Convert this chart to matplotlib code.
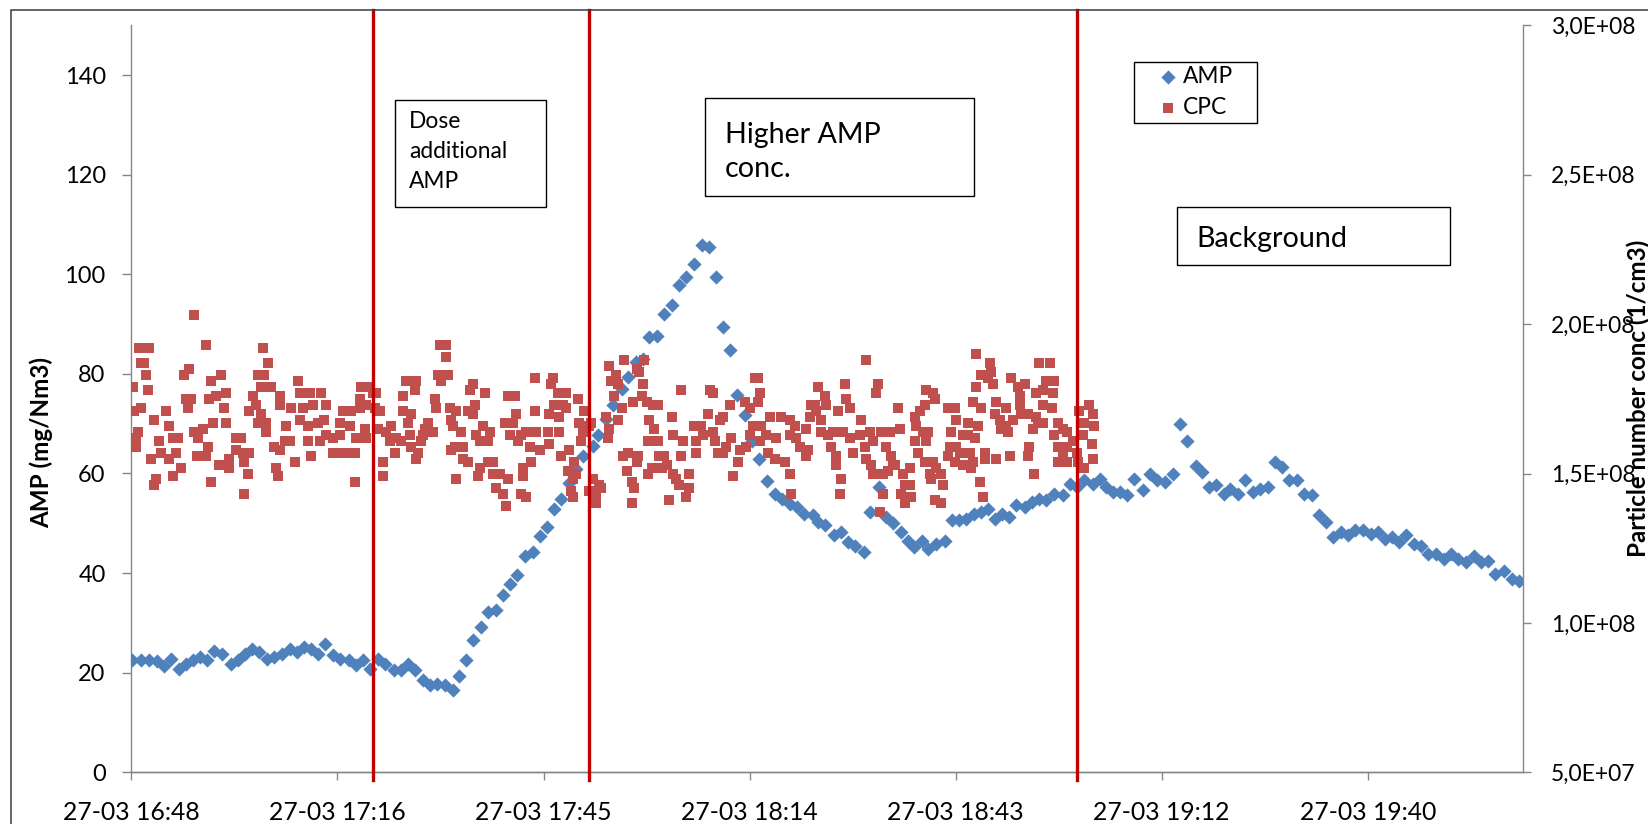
import datetime as dt
import numpy as np
import matplotlib
matplotlib.use("Agg")
import matplotlib.pyplot as plt
import matplotlib.dates as mdates
from matplotlib.patches import Rectangle
from matplotlib.ticker import FuncFormatter

plt.rcParams['font.family'] = ['Lato', 'DejaVu Sans']

# time axis starts 27-03 16:48, values below are minutes after that
start = dt.datetime(2013, 3, 27, 16, 48)
x_end_min = 194.5
tick_step_min = 28.8

# AMP (mg/Nm3), left axis
amp_min = [0.1, 1.4, 2.5, 3.6, 4.6, 5.6, 6.6, 7.6, 8.6, 9.6,
           10.6, 11.6, 12.6, 13.9, 14.9, 15.9, 16.9, 17.9, 18.9, 19.9,
           21.1, 22.1, 23.1, 24.1, 25.1, 26.1, 27.1, 28.2, 29.2, 30.4,
           31.4, 32.4, 33.4, 34.4, 35.4, 36.7, 37.7, 38.7, 39.7, 40.7,
           41.7, 42.7, 43.9, 44.9, 45.8, 46.8, 47.8, 48.9, 49.8, 50.9,
           51.9, 52.9, 53.9, 55.0, 56.1, 57.1, 58.1, 59.1, 60.0, 61.2,
           62.2, 63.1, 64.5, 65.2, 66.4, 67.3, 68.5, 69.4, 70.5, 71.5,
           72.3, 73.5, 74.5, 75.5, 76.5, 77.5, 78.6, 79.7, 80.7, 81.7,
           82.7, 83.7, 84.6, 85.7, 86.7, 87.7, 88.8, 90.0, 91.0, 92.0,
           93.0, 94.0, 95.2, 96.0, 97.0, 98.2, 99.2, 100.2, 101.2, 102.4,
           103.2, 104.5, 105.4, 106.5, 107.5, 108.5, 109.4, 110.5, 111.4, 112.4,
           113.7, 114.7, 115.7, 116.7, 117.7, 118.7, 119.7, 120.7, 121.7, 122.7,
           123.7, 124.9, 125.9, 126.9, 127.9, 128.9, 130.2, 131.2, 132.2, 133.2,
           134.4, 135.4, 136.2, 137.2, 138.2, 139.1, 140.1, 141.4, 142.4, 143.4,
           144.4, 145.6, 146.5, 147.5, 148.8, 149.6, 150.6, 151.6, 152.7, 153.6,
           154.6, 155.7, 156.7, 157.8, 158.8, 159.8, 160.8, 161.8, 162.9, 163.9,
           165.0, 166.0, 167.0, 168.0, 169.0, 170.0, 171.0, 172.2, 173.2, 174.2,
           175.2, 176.2, 177.2, 178.2, 179.2, 180.2, 181.2, 182.3, 183.4, 184.4,
           185.4, 186.5, 187.7, 188.6, 189.6, 190.6, 191.9, 192.9, 193.9]
amp_val = [22.5, 22.5, 22.6, 22.3, 21.3, 22.8, 20.8, 21.8, 22.6, 23.1,
           22.6, 24.3, 23.8, 21.8, 22.6, 23.8, 24.8, 24.1, 22.8, 23.1,
           23.8, 24.8, 24.1, 25.1, 24.8, 23.8, 25.8, 23.5, 22.8, 22.5,
           21.5, 22.5, 20.8, 22.8, 21.8, 20.5, 20.5, 21.7, 20.5, 18.5,
           17.5, 17.8, 17.5, 16.6, 19.3, 22.5, 26.6, 29.1, 32.1, 32.6,
           35.6, 37.8, 39.7, 43.5, 44.2, 47.5, 49.3, 52.8, 54.8, 58.0,
           61.0, 63.6, 65.6, 67.7, 71.0, 73.7, 77.0, 79.4, 82.4, 83.0,
           87.4, 87.7, 92.1, 93.9, 97.8, 99.4, 102.1, 105.8, 105.5, 99.4,
           89.4, 84.7, 75.7, 71.7, 66.6, 63.0, 58.4, 55.9, 54.9, 53.9,
           53.3, 51.9, 51.6, 50.2, 49.6, 47.6, 48.2, 46.2, 45.5, 44.2,
           52.2, 57.3, 51.2, 50.1, 48.2, 46.5, 45.2, 46.5, 44.9, 45.9,
           46.5, 50.6, 50.6, 50.9, 51.9, 52.2, 52.9, 50.9, 51.9, 51.2,
           53.6, 53.3, 54.3, 54.9, 54.6, 55.9, 55.6, 57.9, 57.3, 58.6,
           57.9, 58.9, 57.3, 56.3, 56.3, 55.6, 58.9, 56.6, 59.9, 58.6,
           58.3, 59.9, 70.0, 66.6, 61.6, 60.3, 57.3, 57.6, 55.9, 56.9,
           55.9, 58.6, 56.3, 56.9, 57.3, 62.3, 61.3, 58.6, 58.6, 55.9,
           55.6, 51.6, 50.2, 47.2, 48.2, 47.6, 48.6, 48.6, 47.9, 48.2,
           46.9, 47.2, 46.2, 47.6, 45.9, 45.5, 43.9, 43.9, 42.9, 43.9,
           42.9, 42.2, 43.5, 42.2, 42.5, 39.9, 40.5, 38.9, 38.5]

# CPC particle number (in 1E+08 per cm3), right axis
cpc_min = [0.2, 1.0, 2.5, 1.4, 1.8, 2.1, 2.3, 0.4, 1.4, 0.9,
           0.7, 0.6, 3.2, 4.9, 3.9, 2.8, 4.2, 5.3, 5.8, 6.5,
           5.3, 3.5, 3.2, 5.8, 7.0, 6.3, 7.4, 8.1, 7.7, 8.4,
           7.9, 8.8, 8.8, 9.3, 10.0, 9.1, 10.4, 10.7, 10.4, 11.1,
           10.9, 11.8, 12.5, 13.2, 13.0, 11.4, 13.2, 12.3, 11.1, 13.7,
           13.7, 14.6, 15.3, 14.6, 15.6, 16.5, 15.8, 16.3, 15.8, 18.4,
           19.1, 17.7, 18.6, 18.1, 19.5, 17.0, 17.4, 16.5, 18.1, 17.7,
           18.8, 18.8, 20.7, 20.7, 20.0, 20.7, 20.2, 20.5, 21.6, 22.1,
           21.4, 22.8, 23.3, 23.5, 24.9, 26.5, 22.3, 24.0, 23.5, 25.4,
           27.2, 24.7, 26.1, 26.9, 27.2, 28.2, 24.7, 26.3, 25.1, 28.2,
           # 17:17 - 17:46
           29.6, 30.7, 29.1, 30.5, 29.1, 29.3, 30.7, 31.2, 31.2, 32.1,
           33.1, 31.9, 31.9, 32.8, 33.8, 34.0, 32.6, 32.8, 31.4, 34.2,
           34.7, 34.5, 35.1, 35.1, 35.6, 36.3, 36.1, 37.0, 36.8, 37.7,
           37.9, 38.4, 39.8, 39.6, 37.9, 39.1, 38.6, 38.9, 39.1, 39.8,
           40.0, 40.5, 41.0, 41.4, 42.1, 40.7, 43.1, 44.0, 44.0, 42.8,
           44.2, 43.3, 42.4, 42.6, 44.5, 45.4, 44.7, 44.9, 46.1, 44.7,
           45.2, 46.3, 46.3, 47.0, 45.4, 47.3, 47.7, 47.0, 48.0, 47.7,
           48.2, 49.1, 48.7, 50.1, 49.8, 49.4, 48.7, 48.4, 49.8, 50.5,
           50.5, 51.5, 52.6, 51.0, 51.9, 52.4, 52.2, 52.6, 53.6, 53.8,
           53.3, 52.9, 54.0, 54.5, 55.2, 55.7, 56.6, 56.4, 57.1, 55.9,
           54.7, 54.7, 54.5, 55.2, 56.4,
           # 17:46 - 18:15
           58.9, 58.7, 59.6, 60.8, 62.4, 59.1, 60.3, 58.4, 59.8, 60.8,
           58.2, 58.4, 59.8, 62.6, 63.3, 63.1, 62.9, 64.3, 60.1, 61.2,
           61.9, 61.0, 62.2, 61.7, 61.5, 61.7, 64.0, 64.5, 65.4, 65.0,
           64.0, 65.0, 65.7, 66.4, 66.6, 66.8, 68.9, 66.8, 67.8, 67.1,
           68.0, 67.5, 68.5, 68.0, 70.1, 70.6, 71.0, 71.7, 71.5, 71.3,
           72.0, 72.4, 73.1, 72.9, 73.6, 72.2, 73.6, 68.7, 69.4, 70.8,
           70.6, 69.2, 69.9, 70.3, 69.9, 72.2, 72.7, 73.8, 74.5, 74.8,
           74.1, 75.7, 76.1, 76.6, 78.0, 78.0, 77.5, 75.2, 75.5, 76.8,
           75.7, 77.1, 76.8, 78.7, 78.9, 78.9, 79.6, 79.9, 80.6, 80.8,
           81.3, 81.3, 81.5, 82.2, 82.7, 83.6, 82.0, 82.7, 83.1, 83.8,
           84.8, 84.1, 85.0, 85.9, 85.7, 86.4, 86.9, 87.1, 86.4,
           # 18:15 - 18:44
           87.6, 87.8, 87.6, 88.0, 87.8, 89.2, 88.7, 89.0, 89.9, 90.1,
           90.8, 91.3, 92.0, 92.0, 92.7, 92.9, 93.4, 94.3, 94.3, 94.6,
           92.0, 92.2, 95.0, 95.5, 95.7, 94.8, 96.4, 96.0, 96.9, 97.1,
           96.4, 97.4, 98.1, 97.8, 98.8, 98.5, 98.5, 99.2, 99.0, 99.7,
           99.9, 100.4, 99.5, 100.4, 100.9, 101.8, 102.0, 102.7, 103.2, 102.5,
           102.7, 103.4, 103.6, 104.3, 104.1, 103.6, 104.8, 105.0, 105.7, 105.5,
           106.0, 106.2, 106.4, 107.1, 107.4, 106.7, 107.8, 108.8, 108.1, 108.8,
           107.6, 108.1, 109.0, 105.0, 104.6, 109.5, 109.7, 109.5, 110.6, 111.1,
           112.0, 112.3, 110.9, 110.2, 111.3, 111.1, 109.9, 110.9, 112.0, 111.6,
           111.8, 112.5, 113.2, 113.4, 112.3, 113.2, 114.1, 115.1, 115.3, 114.6,
           114.4, 115.3, 116.2, 115.8, 114.1, 115.1, 116.2,
           # 18:44 - 19:03
           118.0, 120.0, 120.2, 118.8, 119.7, 118.1, 120.4, 117.6, 118.8, 116.9,
           118.3, 116.9, 117.9, 117.2, 117.6, 117.4, 119.3, 119.3, 120.9, 118.6,
           119.0, 123.0, 123.9, 124.9, 124.2, 120.9, 122.3, 120.7, 121.4, 122.3,
           121.6, 122.5, 123.2, 124.2, 124.4, 125.3, 126.5, 126.0, 126.7, 127.4,
           125.5, 122.8, 125.3, 126.2, 126.9, 128.4, 127.9, 129.0, 127.4, 126.5,
           128.8, 127.4, 128.6, 129.5, 130.2, 130.7, 129.0, 129.5, 130.7, 130.2,
           129.5, 130.7, 131.6, 132.1, 132.3, 132.5, 133.9, 134.4, 133.2, 134.6,
           133.0, 134.2, 134.4, 133.2]
cpc_val = [1.79, 1.92, 1.92, 1.87, 1.87, 1.83, 1.78, 1.71, 1.72, 1.64,
           1.62, 1.59, 1.68, 1.71, 1.61, 1.55, 1.57, 1.66, 1.62, 1.62,
           1.55, 1.48, 1.46, 1.49, 1.52, 1.57, 1.83, 1.85, 1.75, 1.75,
           1.72, 2.03, 1.64, 1.62, 1.65, 1.56, 1.56, 1.59, 1.93, 1.81,
           1.75, 1.76, 1.83, 1.77, 1.72, 1.67, 1.67, 1.53, 1.47, 1.52,
           1.55, 1.62, 1.62, 1.58, 1.57, 1.57, 1.54, 1.50, 1.43, 1.92,
           1.87, 1.83, 1.83, 1.79, 1.79, 1.76, 1.73, 1.71, 1.70, 1.67,
           1.67, 1.64, 1.76, 1.73, 1.59, 1.58, 1.52, 1.49, 1.66, 1.61,
           1.61, 1.54, 1.81, 1.77, 1.77, 1.77, 1.72, 1.72, 1.68, 1.73,
           1.73, 1.66, 1.67, 1.68, 1.63, 1.62, 1.61, 1.61, 1.56, 1.57,
           # 17:17 - 17:46
           1.71, 1.71, 1.67, 1.66, 1.63, 1.57, 1.57, 1.57, 1.47, 1.79,
           1.79, 1.75, 1.72, 1.73, 1.77, 1.72, 1.65, 1.62, 1.62, 1.77,
           1.71, 1.65, 1.54, 1.49, 1.64, 1.66, 1.61, 1.62, 1.57, 1.61,
           1.76, 1.81, 1.81, 1.78, 1.71, 1.70, 1.67, 1.63, 1.59, 1.55,
           1.57, 1.61, 1.65, 1.67, 1.64, 1.63, 1.93, 1.93, 1.89, 1.83,
           1.83, 1.81, 1.75, 1.72, 1.72, 1.71, 1.68, 1.66, 1.64, 1.58,
           1.59, 1.59, 1.55, 1.54, 1.48, 1.78, 1.80, 1.71, 1.73, 1.70,
           1.63, 1.66, 1.61, 1.64, 1.61, 1.77, 1.52, 1.49, 1.54, 1.54,
           1.50, 1.50, 1.48, 1.45, 1.43, 1.39, 1.67, 1.76, 1.76, 1.70,
           1.67, 1.63, 1.61, 1.63, 1.64, 1.59, 1.64, 1.71, 1.58, 1.54,
           1.52, 1.49, 1.43, 1.42, 1.82,
           # 17:46 - 18:15
           1.82, 1.80, 1.77, 1.77, 1.75, 1.73, 1.73, 1.70, 1.69, 1.72,
           1.64, 1.60, 1.64, 1.67, 1.71, 1.64, 1.61, 1.67, 1.56, 1.58,
           1.54, 1.51, 1.50, 1.48, 1.44, 1.42, 1.66, 1.48, 1.46, 1.43,
           1.44, 1.40, 1.45, 1.69, 1.62, 1.65, 1.88, 1.86, 1.83, 1.81,
           1.80, 1.76, 1.72, 1.68, 1.74, 1.85, 1.84, 1.88, 1.80, 1.76,
           1.74, 1.68, 1.65, 1.73, 1.73, 1.61, 1.61, 1.56, 1.57, 1.56,
           1.54, 1.51, 1.47, 1.45, 1.40, 1.50, 1.52, 1.56, 1.56, 1.53,
           1.52, 1.50, 1.48, 1.46, 1.50, 1.45, 1.42, 1.41, 1.69, 1.78,
           1.63, 1.61, 1.56, 1.66, 1.61, 1.57, 1.66, 1.63, 1.70, 1.78,
           1.77, 1.64, 1.61, 1.68, 1.69, 1.73, 1.57, 1.57, 1.59, 1.62,
           1.54, 1.49, 1.58, 1.59, 1.74, 1.72, 1.66, 1.82, 1.63,
           # 18:15 - 18:44
           1.82, 1.77, 1.74, 1.66, 1.61, 1.69, 1.63, 1.57, 1.55, 1.62,
           1.69, 1.54, 1.68, 1.63, 1.66, 1.62, 1.59, 1.56, 1.65, 1.58,
           1.50, 1.43, 1.73, 1.73, 1.71, 1.69, 1.68, 1.79, 1.76, 1.73,
           1.64, 1.63, 1.64, 1.59, 1.71, 1.56, 1.53, 1.48, 1.43, 1.80,
           1.75, 1.72, 1.64, 1.62, 1.57, 1.63, 1.68, 1.88, 1.64, 1.59,
           1.55, 1.53, 1.50, 1.80, 1.77, 1.61, 1.64, 1.50, 1.51, 1.59,
           1.64, 1.56, 1.53, 1.72, 1.65, 1.53, 1.50, 1.52, 1.46, 1.46,
           1.43, 1.40, 1.42, 1.43, 1.37, 1.69, 1.66, 1.61, 1.64, 1.78,
           1.77, 1.75, 1.73, 1.71, 1.64, 1.61, 1.57, 1.54, 1.54, 1.50,
           1.48, 1.52, 1.50, 1.46, 1.41, 1.40, 1.72, 1.72, 1.68, 1.64,
           1.59, 1.59, 1.63, 1.57, 1.56, 1.54, 1.53,
           # 18:44 - 19:03
           1.90, 1.87, 1.84, 1.83, 1.82, 1.79, 1.80, 1.74, 1.72, 1.67,
           1.66, 1.63, 1.62, 1.57, 1.54, 1.52, 1.57, 1.55, 1.55, 1.47,
           1.42, 1.82, 1.79, 1.80, 1.76, 1.74, 1.72, 1.70, 1.68, 1.66,
           1.65, 1.64, 1.68, 1.73, 1.70, 1.70, 1.69, 1.65, 1.67, 1.67,
           1.59, 1.56, 1.56, 1.50, 1.87, 1.87, 1.81, 1.81, 1.78, 1.77,
           1.77, 1.73, 1.72, 1.67, 1.65, 1.64, 1.63, 1.59, 1.59, 1.57,
           1.54, 1.54, 1.61, 1.57, 1.54, 1.71, 1.73, 1.70, 1.67, 1.66,
           1.63, 1.60, 1.55, 1.52]

# phase changes (minutes after 16:48)
phase_min = [33.8, 63.9, 132.1]
box_texts = ["Dose\nadditional\nAMP", "Higher AMP\nconc.", "Background"]

assert len(amp_min) == len(amp_val)
assert len(cpc_min) == len(cpc_val)


def to_time(mins):
    return [start + dt.timedelta(minutes=m) for m in mins]


W, H = 1648, 824
fig = plt.figure(figsize=(W / 100, H / 100), dpi=100)

# plot area in pixels: left 131.4, right 1523, top 25.3, bottom 772.3
ax = fig.add_axes([131.4 / W, 1 - 772.3 / H, (1523 - 131.4) / W, (772.3 - 25.3) / H])
ax2 = ax.twinx()

axis_grey = "#868686"
blue = "#4F81BD"
red = "#C0504D"

sc_amp = ax.scatter(to_time(amp_min), amp_val, marker=(4, 0, 0), s=105,
                    color=blue, linewidths=0, label="AMP", zorder=3)
sc_cpc = ax2.scatter(to_time(cpc_min), cpc_val, marker="s", s=56,
                     color=red, linewidths=0, label="CPC", zorder=3)

for m in phase_min:
    ax2.axvline(start + dt.timedelta(minutes=m), ymin=-0.0103, ymax=1.0211,
                color="#C00000", lw=2.4, clip_on=False, zorder=6)

ax.set_xlim(start, start + dt.timedelta(minutes=x_end_min))
ax.set_ylim(0, 150)
ax.set_yticks(np.arange(0, 141, 20))
ax2.set_ylim(0.5, 3.0)
ax2.set_yticks(np.arange(0.5, 3.01, 0.5))
ax2.yaxis.set_major_formatter(FuncFormatter(lambda v, p: f"{v * 1e8:.1E}".replace(".", ",")))

ax.set_xticks(to_time([tick_step_min * k for k in range(7)]))
ax.xaxis.set_major_formatter(mdates.DateFormatter("%d-%m %H:%M"))

for a in (ax, ax2):
    a.patch.set_visible(False)
    for s in a.spines.values():
        s.set_color(axis_grey)
        s.set_linewidth(1.0)
    a.spines["top"].set_visible(False)
ax.spines["right"].set_visible(False)
ax2.spines["left"].set_visible(False)

ax.tick_params(axis="x", direction="out", length=5.8, width=1, color=axis_grey,
               labelsize=17.8, pad=15)
ax.tick_params(axis="y", direction="out", length=6.5, width=1, color=axis_grey,
               labelsize=17, pad=12)
ax2.tick_params(axis="y", direction="out", length=6, width=1, color=axis_grey,
                labelsize=16.5, pad=14)

ax.set_ylabel("AMP (mg/Nm3)", fontsize=17.4, fontweight="bold", va="center")
ax.yaxis.set_label_coords(-0.065, 0.441)
ax2.set_ylabel("Particle number conc (1/cm3)", fontsize=17.4, fontweight="bold",
               va="center", rotation=90)
ax2.yaxis.set_label_coords(1.0827, 0.501)


def fig_box(x0, y0, x1, y1, z=9):
    r = Rectangle((x0 / W, 1 - y1 / H), (x1 - x0) / W, (y1 - y0) / H,
                  transform=fig.transFigure, facecolor="white", edgecolor="black",
                  lw=1.0, zorder=z)
    fig.patches.append(r)


# outer chart border (only left and top visible in the crop)
fig.patches.append(Rectangle((10.5 / W, -0.5), 2.0, 1.5 - 9.5 / H, transform=fig.transFigure,
                             fill=False, edgecolor="#3a3a3a", lw=1.1, zorder=8))

# text boxes; y given for the baseline of the last line
fig_box(394.6, 100, 546.4, 206.7)
fig.text(409 / W, 1 - 187.5 / H, box_texts[0], fontsize=16.4, ha="left", va="baseline",
         linespacing=1.5, zorder=11)
fig_box(705, 98.3, 974, 196)
fig.text(725 / W, 1 - 176.7 / H, box_texts[1], fontsize=20.6, ha="left", va="baseline",
         linespacing=1.39, zorder=11)
fig_box(1176.5, 206.7, 1450, 265)
fig.text(1196.8 / W, 1 - 246.7 / H, box_texts[2], fontsize=20.6, ha="left", va="baseline",
         zorder=11)

# legend frame + legend
fig_box(1134.3, 61.7, 1257.3, 122.7)
leg = fig.legend(handles=[sc_amp, sc_cpc], labels=["AMP", "CPC"], loc="upper left",
                 bbox_to_anchor=(1159.2 / W, 1 - 66 / H), bbox_transform=fig.transFigure,
                 frameon=False, borderpad=0, borderaxespad=0, handlelength=0.8,
                 handletextpad=0.25, labelspacing=0.46, fontsize=16.4, scatterpoints=1)
leg.set_zorder(12)

fig.savefig("out.png", dpi=100)
